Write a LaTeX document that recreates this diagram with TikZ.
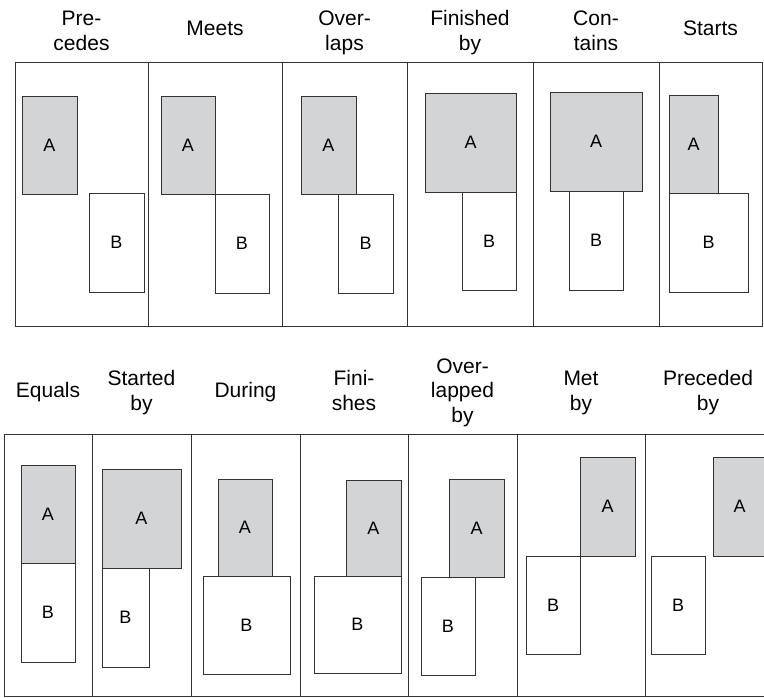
\documentclass[tikz,border=0pt]{standalone}
\usepackage{fontspec}
\setmainfont{Liberation Sans}
\definecolor{agray}{RGB}{211,212,214}
\definecolor{edge}{RGB}{51,51,51}

\begin{document}
\begin{tikzpicture}[x=1pt, y=-1pt,
  frame/.style={draw=edge, line width=1pt},
  ivA/.style={draw=edge, fill=agray, line width=0.9pt},
  ivB/.style={draw=edge, fill=white, line width=0.9pt},
  lbl/.style={font=\fontsize{18}{22}\selectfont, inner sep=0pt},
  ttl/.style={font=\fontsize{21}{24.5}\selectfont, align=center, anchor=base, inner sep=0pt}]
  \useasboundingbox (0,0) rectangle (764,698);
  \clip (0,0) rectangle (764,698);
  % upper row of panels
  \draw[frame] (15,63) rectangle (762,326);
  \foreach \x in {148,282,407,533,659} \draw[frame] (\x,63) -- (\x,326);
  \node[ttl] (tPrec) at (81.5,50.5) {Pre-\\cedes};
  \node[ttl] (tMeet) at (215,36) {Meets};
  \node[ttl] (tOver) at (344.5,50.5) {Over-\\laps};
  \node[ttl] (tFinb) at (470,50.5) {Finished\\by};
  \node[ttl] (tCont) at (596,50.5) {Con-\\tains};
  \node[ttl] (tStar) at (710.5,36) {Starts};
  % precedes
  \draw[ivA] (22,96) rectangle (77,194) node[lbl, midway] (precA) {A};
  \draw[ivB] (89,193) rectangle (144,292) node[lbl, midway] (precB) {B};
  % meets
  \draw[ivA] (161,96) rectangle (215,194) node[lbl, midway] (meetA) {A};
  \draw[ivB] (215,194) rectangle (269,293) node[lbl, midway] (meetB) {B};
  % overlaps
  \draw[ivA] (301,96) rectangle (356,194) node[lbl, midway] (overA) {A};
  \draw[ivB] (338,194) rectangle (393,293) node[lbl, midway] (overB) {B};
  % finished by
  \draw[ivA] (425,93) rectangle (516,192) node[lbl, midway] (finbA) {A};
  \draw[ivB] (462,192) rectangle (516,290) node[lbl, midway] (finbB) {B};
  % contains
  \draw[ivA] (550,92) rectangle (642,191) node[lbl, midway] (contA) {A};
  \draw[ivB] (569,191) rectangle (623,290) node[lbl, midway] (contB) {B};
  % starts
  \draw[ivA] (669,95) rectangle (718,193) node[lbl, midway] (starA) {A};
  \draw[ivB] (669,193) rectangle (748,292) node[lbl, midway] (starB) {B};
  % lower row of panels (runs past the right edge)
  \draw[frame] (4,434) rectangle (771,696);
  \foreach \x in {92,191,300,408,517,645} \draw[frame] (\x,434) -- (\x,696);
  \node[ttl] (tEqua) at (48,397) {Equals};
  \node[ttl] (tStab) at (141.5,410) {Started\\by};
  \node[ttl] (tDuri) at (245.5,397) {During};
  \node[ttl] (tFini) at (354,410) {Fini-\\shes};
  \node[ttl] (tOvby) at (462.5,422) {Over-\\lapped\\by};
  \node[ttl] (tMetb) at (581,410) {Met\\by};
  \node[ttl] (tPrby) at (708,410) {Preceded\\by};
  % equals
  \draw[ivA] (21,465) rectangle (75,563) node[lbl, midway] (equaA) {A};
  \draw[ivB] (21,563) rectangle (75,662) node[lbl, midway] (equaB) {B};
  % started by
  \draw[ivA] (102,469) rectangle (181,568) node[lbl, midway] (stabA) {A};
  \draw[ivB] (102,568) rectangle (149,667) node[lbl, midway] (stabB) {B};
  % during
  \draw[ivA] (218,479) rectangle (272,576) node[lbl, midway] (duriA) {A};
  \draw[ivB] (203,576) rectangle (290,674) node[lbl, midway] (duriB) {B};
  % finishes
  \draw[ivA] (346,480) rectangle (401,576) node[lbl, midway] (finiA) {A};
  \draw[ivB] (314,576) rectangle (401,673) node[lbl, midway] (finiB) {B};
  % overlapped by
  \draw[ivA] (449,479) rectangle (504,577) node[lbl, midway] (ovbyA) {A};
  \draw[ivB] (421,577) rectangle (475,675) node[lbl, midway] (ovbyB) {B};
  % met by
  \draw[ivA] (580,457) rectangle (635,556) node[lbl, midway] (metbA) {A};
  \draw[ivB] (526,556) rectangle (580,654) node[lbl, midway] (metbB) {B};
  % preceded by
  \draw[ivA] (713,457) rectangle (766,556) node[lbl, midway] (prbyA) {A};
  \draw[ivB] (651,556) rectangle (705,654) node[lbl, midway] (prbyB) {B};
\end{tikzpicture}
\end{document}
